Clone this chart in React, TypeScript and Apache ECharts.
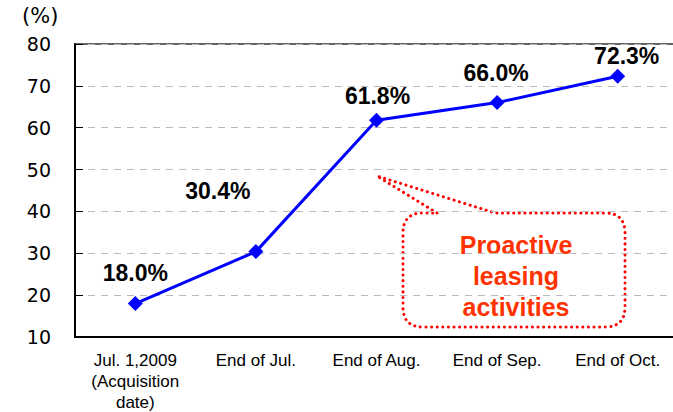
import React, { useEffect, useRef } from "react";
import * as echarts from "echarts";

const categories = ["Jul. 1,2009\n(Acquisition\ndate)", "End of Jul.", "End of Aug.", "End of Sep.", "End of Oct."];
const occupancy = [18.0, 30.4, 61.8, 66.0, 72.3];
const labelOffsets: [number, number][] = [[0, -31], [-38, -61], [1, -24], [-1, -30], [9, -20]];
const yTicks = { min: 10, max: 80, interval: 10 };
const unitLabel = "(%)";
const calloutText = "Proactive\nleasing\nactivities";

const calloutPath =
  "M 437 213 L 377 176 L 495 213 L 605 213 Q 625 213 625 233 L 625 307 Q 625 327 605 327 L 423 327 Q 403 327 403 307 L 403 233 Q 403 213 423 213 Z";

let registered = false;

export default function App() {
  const ref = useRef<HTMLDivElement>(null);
  useEffect(() => {
    if (!ref.current) return;
    if (!registered) {
      echarts.graphic.registerShape("callout", echarts.graphic.extendPath(calloutPath, {}));
      registered = true;
    }
    const chart = echarts.init(ref.current, null, { renderer: "svg" });
    chart.setOption({
      animation: false,
      backgroundColor: "#ffffff",
      grid: {
        left: 75,
        top: 44,
        bottom: 75,
        width: 603,
        outerBoundsMode: "none",
        containLabel: false,
        show: true,
        borderColor: "#333333",
        borderWidth: 1.5,
        backgroundColor: "transparent",
      },
      xAxis: {
        type: "category",
        data: categories,
        boundaryGap: true,
        axisLine: { lineStyle: { color: "#000", width: 2 } },
        axisTick: { inside: true, length: 5, alignWithLabel: false, lineStyle: { color: "#000", width: 1 } },
        axisLabel: {
          interval: 0,
          color: "#000",
          fontFamily: "Liberation Sans, Arial, sans-serif",
          fontSize: 17,
          lineHeight: 21,
          margin: 13,
        },
      },
      yAxis: {
        type: "value",
        min: yTicks.min,
        max: yTicks.max,
        interval: yTicks.interval,
        axisLine: { show: true, lineStyle: { color: "#000", width: 2 } },
        axisTick: { show: true, inside: true, length: 8, lineStyle: { color: "#000", width: 1 } },
        axisLabel: {
          color: "#000",
          fontFamily: "DejaVu Sans, sans-serif",
          fontSize: 19,
          margin: 24,
        },
        splitLine: { show: true, lineStyle: { color: "#bbbbbb", type: [7, 6], width: 1.2 } },
      },
      series: [
        {
          type: "line",
          data: occupancy.map((v, i) => ({
            value: v,
            label: { offset: labelOffsets[i] },
          })),
          symbol: "diamond",
          symbolSize: 15,
          lineStyle: { color: "#0000ff", width: 3 },
          itemStyle: { color: "#0000ff" },
          label: {
            show: true,
            position: "inside",
            formatter: (p: any) => p.value.toFixed(1) + "%",
            color: "#000",
            fontFamily: "Liberation Sans, Arial, sans-serif",
            fontWeight: "bold",
            fontSize: 23,
          },
          z: 5,
        },
      ],
      graphic: [
        {
          type: "text",
          left: 22,
          top: 5,
          style: {
            text: unitLabel,
            fill: "#000",
            font: "21px DejaVu Sans, sans-serif",
          },
        },
        {
          type: "callout",
          x: 0,
          y: 0,
          style: {
            fill: "none",
            stroke: "#ff0000",
            lineWidth: 3,
            lineDash: [0.1, 5.5],
            lineCap: "round",
          },
        },
        {
          type: "text",
          x: 516,
          y: 276,
          style: {
            text: calloutText,
            fill: "#ff3300",
            font: "bold 25px Liberation Sans, Arial, sans-serif",
            lineHeight: 31,
            align: "center",
            verticalAlign: "middle",
          },
        },
      ],
    });
    return () => chart.dispose();
  }, []);
  return (
    <div
      ref={ref}
      style={{ position: "fixed", left: 0, top: 0, width: 673, height: 412 }}
    />
  );
}
